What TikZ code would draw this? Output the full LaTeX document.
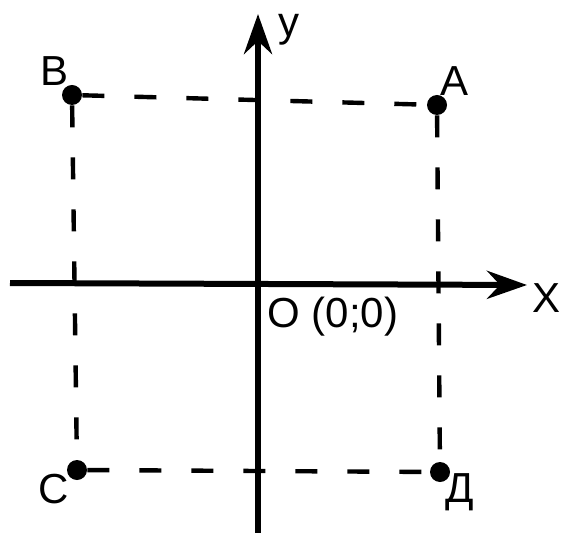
\documentclass[tikz,border=0pt]{standalone}
\usepackage{fontspec}
\setmainfont{Liberation Sans}
\usetikzlibrary{calc, positioning}
\usetikzlibrary{arrows.meta}

\begin{document}
\begin{tikzpicture}[x=0.5pt, y=-0.5pt, line join=round, line cap=butt]
\tikzset{
  axisline/.style={line width=3pt, black, -{Stealth[length=20pt, width=14pt]}},
  gridline/.style={line width=2.2pt, black, dash pattern=on 11pt off 15pt},
  pointdot/.style={circle, fill=black, inner sep=0pt, minimum size=10pt},
  letter/.style={font=\fontsize{21}{24}\selectfont, inner sep=1pt}
}
\useasboundingbox (0,0) rectangle (565,533);

% Axis ends
\coordinate (xstart) at (10,283);
\coordinate (xend) at (527,285);
\coordinate (ystart) at (258,533);
\coordinate (yend) at (258,14);
\coordinate (O) at (258,283);

% Marked points
\node[pointdot] (B) at (72,95) {};
\node[pointdot] (A) at (437,105) {};
\node[pointdot] (C) at (77,470) {};
\node[pointdot] (D) at (440,472) {};

% Dashed rectangle through the points
\draw[gridline] (B) -- (A);
\draw[gridline] (C) -- (D);
\draw[gridline] (B) -- (C);
\draw[gridline] (A) -- (D);

% Axes
\draw[axisline] (xstart) -- (xend);
\draw[axisline] (ystart) -- (yend);

% Labels
\node[letter, above left=0pt and -3pt of B] (Blabel) {B};
\node[letter, above right=0pt and -3pt of A] (Alabel) {A};
\node[letter, below left=-3pt and -1pt of C] (Clabel) {C};
\node[letter, below right=-4pt and -2pt of D] (Dlabel) {Д};
\node[letter, anchor=west] (ylabel) at (276,30) {y};
\node[letter, anchor=west] (xlabel) at (530,298) {X};
\node[letter, anchor=north west] (Olabel) at (265,295) {O (0;0)};
\end{tikzpicture}
\end{document}
